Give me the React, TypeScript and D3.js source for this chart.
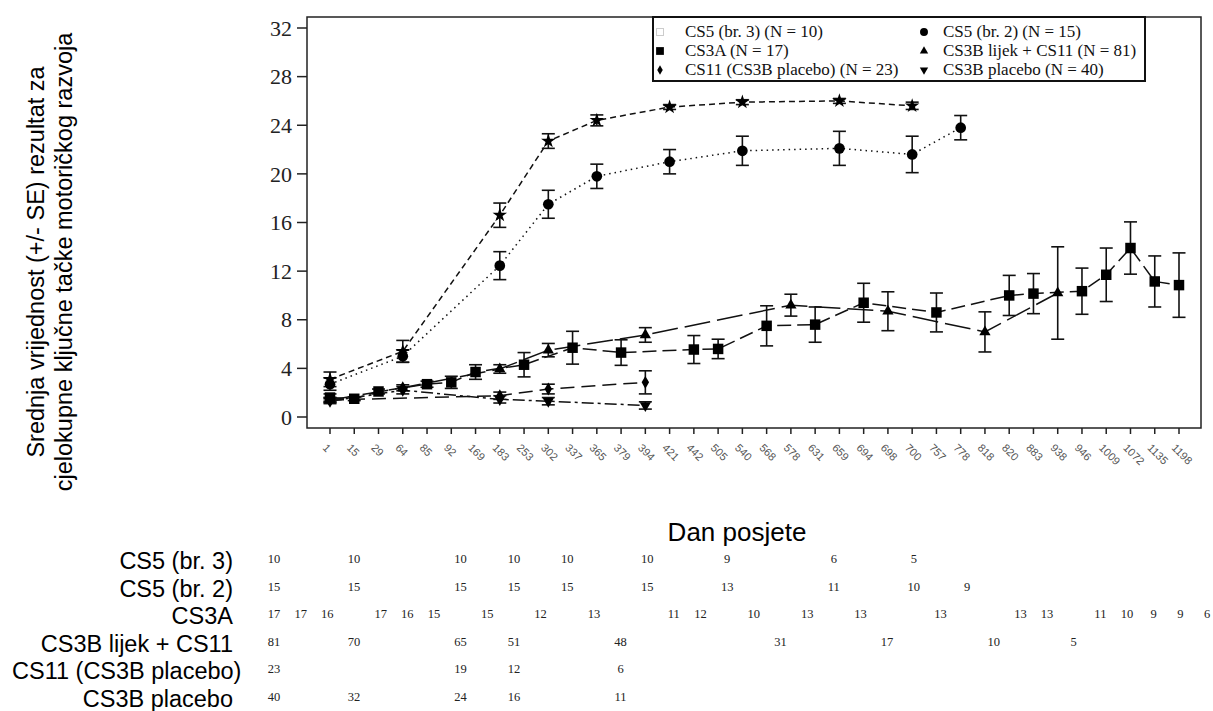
import React from "react";
import * as d3 from "d3";

// visit days on the category axis
const visitDays = ["1","15","29","64","85","92","169","183","253","302","337","365","379","394","421","442","505","540","568","578","631","659","694","698","700","757","778","818","820","883","938","946","1009","1072","1135","1198"];
const yTicks = [0, 4, 8, 12, 16, 20, 24, 28, 32];

// CS5 (br. 3)
const cs5b3Days = ["1","64","183","302","365","421","540","659","700"];
const cs5b3Mean = [3.1, 5.4, 16.6, 22.7, 24.4, 25.5, 25.9, 26.0, 25.6];
const cs5b3Se = [0.6, 0.9, 1.0, 0.6, 0.45, 0.2, 0.2, 0.2, 0.3];
const cs5b3N = [10, 10, 10, 10, 10, 10, 9, 6, 5];

// CS5 (br. 2)
const cs5b2Days = ["1","64","183","302","365","421","540","659","700","778"];
const cs5b2Mean = [2.7, 5.0, 12.45, 17.5, 19.8, 21.0, 21.9, 22.1, 21.6, 23.8];
const cs5b2Se = [0.5, 0.5, 1.15, 1.15, 1.0, 1.0, 1.2, 1.4, 1.5, 1.0];
const cs5b2N = [15, 15, 15, 15, 15, 15, 13, 11, 10, 9];

// CS3A
const cs3aDays = ["1","15","29","85","92","169","253","337","379","442","505","568","631","694","757","820","883","946","1009","1072","1135","1198"];
const cs3aMean = [1.6, 1.5, 2.1, 2.7, 2.85, 3.7, 4.3, 5.7, 5.3, 5.55, 5.6, 7.5, 7.6, 9.4, 8.6, 10.0, 10.15, 10.35, 11.7, 13.9, 11.15, 10.85];
const cs3aSe = [0.3, 0.15, 0.2, 0.25, 0.5, 0.6, 1.0, 1.35, 1.05, 1.15, 0.8, 1.65, 1.45, 1.6, 1.6, 1.65, 1.65, 1.9, 2.2, 2.15, 2.1, 2.65];
const cs3aN = [17, 17, 16, 17, 16, 15, 15, 12, 13, 11, 12, 10, 13, 13, 13, 13, 13, 11, 10, 9, 9, 6];

// CS3B lijek + CS11
const cs3bDays = ["1","64","183","302","394","578","698","818","938"];
const cs3bMean = [1.4, 2.4, 3.95, 5.5, 6.75, 9.2, 8.7, 7.0, 10.2];
const cs3bSe = [0.2, 0.25, 0.35, 0.55, 0.6, 0.9, 1.6, 1.65, 3.8];
const cs3bN = [81, 70, 65, 51, 48, 31, 17, 10, 5];

// CS11 (CS3B placebo)
const cs11Days = ["1","183","302","394"];
const cs11Mean = [1.4, 1.75, 2.3, 2.85];
const cs11Se = [0.2, 0.3, 0.4, 0.95];
const cs11N = [23, 19, 12, 6];

// CS3B placebo
const cs3bPlDays = ["1","64","183","302","394"];
const cs3bPlMean = [1.3, 2.2, 1.45, 1.3, 0.95];
const cs3bPlSe = [0.2, 0.3, 0.3, 0.3, 0.3];
const cs3bPlN = [40, 32, 24, 16, 11];

const seriesNames = ["CS5 (br. 3)", "CS5 (br. 2)", "CS3A", "CS3B lijek + CS11", "CS11 (CS3B placebo)", "CS3B placebo"];
const legendLabels = ["CS5 (br. 3) (N = 10)", "CS5 (br. 2) (N = 15)", "CS3A (N = 17)", "CS3B lijek + CS11 (N = 81)", "CS11 (CS3B placebo) (N = 23)", "CS3B placebo (N = 40)"];

const series = [
  { days: cs5b3Days, mean: cs5b3Mean, se: cs5b3Se, n: cs5b3N, sym: d3.symbolStar, size: 65, rot: 0, dash: "6,4" },
  { days: cs5b2Days, mean: cs5b2Mean, se: cs5b2Se, n: cs5b2N, sym: d3.symbolCircle, size: 90, rot: 0, dash: "1.5,4" },
  { days: cs3aDays, mean: cs3aMean, se: cs3aSe, n: cs3aN, sym: d3.symbolSquare, size: 110, rot: 0, dash: "14,6" },
  { days: cs3bDays, mean: cs3bMean, se: cs3bSe, n: cs3bN, sym: d3.symbolTriangle, size: 55, rot: 0, dash: "26,7" },
  { days: cs11Days, mean: cs11Mean, se: cs11Se, n: cs11N, sym: d3.symbolDiamond, size: 48, rot: 0, dash: "14,7" },
  { days: cs3bPlDays, mean: cs3bPlMean, se: cs3bPlSe, n: cs3bPlN, sym: d3.symbolTriangle, size: 55, rot: 180, dash: "12,4,3,4" },
];

const sans = "'Liberation Sans', Arial, sans-serif";
const serif = "'Liberation Serif', 'Times New Roman', serif";

function textWidth(s: string, font: string) {
  const ctx = document.createElement("canvas").getContext("2d");
  if (!ctx) return s.length * 12;
  ctx.font = font;
  return ctx.measureText(s).width;
}

export default function App() {
  const x = d3.scalePoint<string>().domain(visitDays).range([330, 1179]);
  const xTable = d3.scalePoint<string>().domain(visitDays).range([274, 1207]);
  const y = d3.scaleLinear().domain([0, 32]).range([417, 28]);
  const rowY = d3.scalePoint<string>().domain(seriesNames).range([561, 698.5]);

  const frame = { l: 307, r: 1201, t: 17, b: 428 };

  const legendX = [660, 924];
  const legendTextX = [685, 943];
  const legendRowY = [37, 56, 75];

  return (
    <div style={{ position: "absolute", left: 0, top: 0 }}>
      <svg width={1213} height={711} style={{ display: "block", background: "#fff", opacity: 0.999 }}>
        {/* frame */}
        <rect x={frame.l} y={frame.t} width={frame.r - frame.l} height={frame.b - frame.t} fill="none" stroke="#222" strokeWidth={1.5} />

        {/* y axis */}
        {yTicks.map((t) => (
          <g key={"y" + t}>
            <line x1={297} x2={frame.l} y1={y(t)} y2={y(t)} stroke="#222" strokeWidth={1.5} />
            <text x={292} y={y(t)} dy="0.35em" textAnchor="end" fontFamily={serif} fontSize={22} fill="#222">{t}</text>
          </g>
        ))}

        {/* x axis */}
        {visitDays.map((d) => (
          <g key={"x" + d}>
            <line x1={x(d)} x2={x(d)} y1={frame.b} y2={frame.b + 6} stroke="#222" strokeWidth={1.5} />
            <text transform={`translate(${(x(d) as number) - 8},448.5) rotate(45)`} fontFamily={sans} fontSize={11} fill="#555">{d}</text>
          </g>
        ))}

        {/* lines */}
        {series.map((s, i) => {
          const pts = s.days.map((d, j) => [x(d) as number, y(s.mean[j])] as [number, number]);
          return <path key={"l" + i} d={d3.line()(pts) || ""} fill="none" stroke="#111" strokeWidth={1.5} strokeDasharray={s.dash} />;
        })}

        {/* error bars */}
        {series.map((s, i) => (
          <g key={"e" + i} stroke="#111" strokeWidth={1.6}>
            {s.days.map((d, j) => {
              const cx = x(d) as number;
              const y0 = y(s.mean[j] - s.se[j]);
              const y1 = y(s.mean[j] + s.se[j]);
              return (
                <g key={j}>
                  <line x1={cx} x2={cx} y1={y0} y2={y1} />
                  <line x1={cx - 6.5} x2={cx + 6.5} y1={y0} y2={y0} />
                  <line x1={cx - 6.5} x2={cx + 6.5} y1={y1} y2={y1} />
                </g>
              );
            })}
          </g>
        ))}

        {/* markers */}
        {series.map((s, i) => {
          const p = d3.symbol().type(s.sym).size(s.size)() || "";
          return (
            <g key={"m" + i}>
              {s.days.map((d, j) => (
                <path key={j} d={p} fill="#000" transform={`translate(${x(d)},${y(s.mean[j])}) rotate(${s.rot})`} />
              ))}
            </g>
          );
        })}

        {/* legend */}
        <rect x={653} y={frame.t} width={492} height={64} fill="#fff" stroke="#111" strokeWidth={2} />
        {legendLabels.map((lab, i) => {
          const col = i % 2;
          const row = Math.floor(i / 2);
          const s = series[i];
          const my = legendRowY[row] - 5;
          const mx = legendX[col];
          const p = d3.symbol().type(s.sym).size(s.size * 0.55)() || "";
          return (
            <g key={"lg" + i}>
              {i === 0 ? (
                <rect x={mx - 3.5} y={my - 3.5} width={7} height={7} fill="none" stroke="#ccc" strokeWidth={1} />
              ) : (
                <path d={p} fill="#000" transform={`translate(${mx},${my}) rotate(${s.rot})`} />
              )}
              <text x={legendTextX[col]} y={legendRowY[row]} fontFamily={serif} fontSize={17} fill="#111">{lab}</text>
            </g>
          );
        })}

        {/* y title */}
        <g fontFamily={sans} fontSize={23.5} fill="#000" textAnchor="middle">
          <text transform="translate(43.8,262) rotate(-90)">Srednja vrijednost (+/- SE) rezultat za</text>
          <text transform="translate(71.8,262) rotate(-90)">cjelokupne ključne tačke motoričkog razvoja</text>
        </g>

        {/* x title */}
        <text x={737} y={541} textAnchor="middle" fontFamily={sans} fontSize={26} fill="#000">Dan posjete</text>

        {/* number-at-risk table */}
        {seriesNames.map((name, i) => {
          const ry = rowY(name) as number;
          const w = textWidth(name, `23.5px ${sans}`);
          const endX = Math.max(233, 12 + w);
          const s = series[i];
          return (
            <g key={"t" + i}>
              <text x={endX} y={ry + 8.4} textAnchor="end" fontFamily={sans} fontSize={23.5} fill="#000">{name}</text>
              {s.days.map((d, j) => (
                <text key={j} x={xTable(d)} y={ry + 2.2} textAnchor="middle" fontFamily={serif} fontSize={12.5} fill="#222">{s.n[j]}</text>
              ))}
            </g>
          );
        })}
      </svg>
    </div>
  );
}
